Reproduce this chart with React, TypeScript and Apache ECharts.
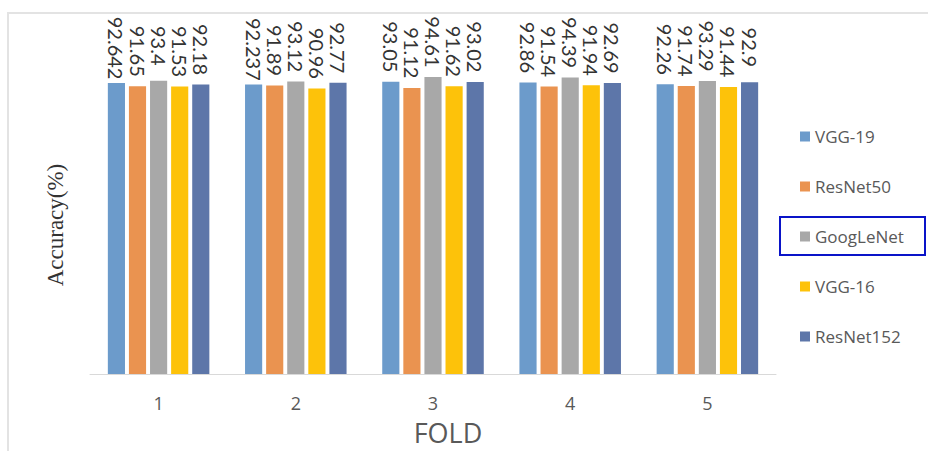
import React, { useEffect, useRef } from "react";
import * as echarts from "echarts";

const folds = ["1", "2", "3", "4", "5"];
const seriesNames = ["VGG-19", "ResNet50", "GoogLeNet", "VGG-16", "ResNet152"];
const vgg19 = [92.642, 92.237, 93.05, 92.86, 92.26];
const resnet50 = [91.65, 91.89, 91.12, 91.54, 91.74];
const googlenet = [93.4, 93.12, 94.61, 94.39, 93.29];
const vgg16 = [91.53, 90.96, 91.62, 91.94, 91.44];
const resnet152 = [92.18, 92.77, 93.02, 92.69, 92.9];
const colors = ["#6C9BCB", "#EA9350", "#A8A8A8", "#FDC20A", "#5D76A9"];

export default function App() {
  const ref = useRef<HTMLDivElement>(null);
  useEffect(() => {
    document.body.style.margin = "0";
    const chart = echarts.init(ref.current!, null, { renderer: "svg" });
    const values = [vgg19, resnet50, googlenet, vgg16, resnet152];
    chart.setOption({
      animation: false,
      backgroundColor: "#ffffff",
      color: colors,
      grid: { left: 90, right: 152, top: 60, bottom: 77, containLabel: false, outerBoundsMode: "none" },
      xAxis: {
        type: "category",
        data: folds,
        axisLine: { lineStyle: { color: "#D9D9D9", width: 1 } },
        axisTick: { show: false },
        axisLabel: { color: "#595959", fontSize: 18, lineHeight: 18, fontFamily: "Open Sans", margin: 20 },
      },
      yAxis: { type: "value", min: 0, max: 100, show: false },
      legend: {
        orient: "vertical",
        left: 795,
        top: 123,
        itemWidth: 10,
        itemHeight: 10,
        itemGap: 33,
        icon: "rect",
        textStyle: { color: "#595959", fontSize: 17, fontFamily: "Open Sans" },
        data: seriesNames,
      },
      series: seriesNames.map((name, i) => ({
        name,
        type: "bar",
        data: values[i],
        barGap: "23%",
        barCategoryGap: "26%",
        label: {
          show: true,
          position: "top",
          rotate: -90,
          align: "center",
          verticalAlign: "middle",
          distance: 35,
          color: "#333333",
          fontSize: 20,
          fontFamily: "Lato",
        },
      })),
      graphic: [
        { type: "line", shape: { x1: 7, y1: 13, x2: 928, y2: 13 }, style: { stroke: "#E3E3E3", lineWidth: 2 } },
        { type: "line", shape: { x1: 8, y1: 13, x2: 8, y2: 451 }, style: { stroke: "#E3E3E3", lineWidth: 2 } },
        {
          type: "text",
          x: 55,
          y: 225,
          rotation: Math.PI / 2,
          style: {
            text: "Accuracy(%)",
            fontSize: 23,
            fontFamily: "Liberation Serif",
            fill: "#333333",
            textAlign: "center",
            textVerticalAlign: "middle",
          },
        },
        {
          type: "text",
          x: 448,
          y: 432,
          style: {
            text: "FOLD",
            fontSize: 27,
            fontFamily: "Open Sans",
            fill: "#595959",
            textAlign: "center",
            textVerticalAlign: "middle",
          },
        },
        {
          type: "rect",
          shape: { x: 780, y: 217, width: 145, height: 38 },
          style: { fill: "none", stroke: "#0A14C8", lineWidth: 2 },
        },
      ],
    });
    return () => chart.dispose();
  }, []);
  return <div ref={ref} style={{ width: 928, height: 451 }} />;
}
